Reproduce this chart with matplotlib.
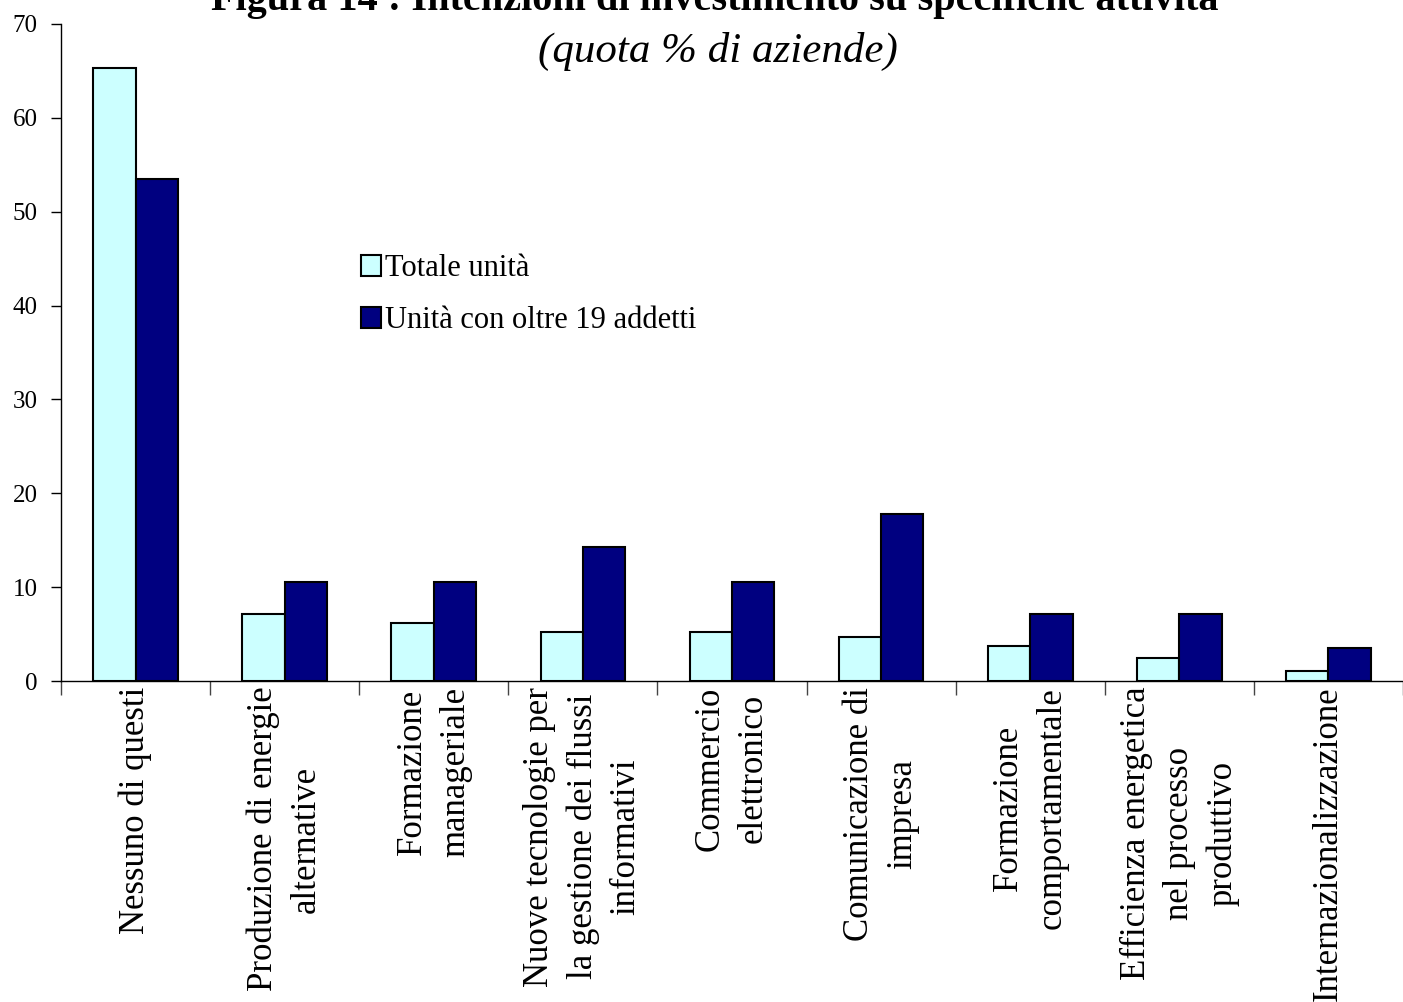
import numpy as np
import matplotlib
matplotlib.use('Agg')
import matplotlib.pyplot as plt

plt.rcParams['font.family'] = ['Liberation Serif', 'DejaVu Serif']

# Chart data
categories = [
    'Nessuno di questi',
    'Produzione di energie\nalternative',
    'Formazione\nmanageriale',
    'Nuove tecnologie per\nla gestione dei flussi\ninformativi',
    'Commercio\nelettronico',
    'Comunicazione di\nimpresa',
    'Formazione\ncomportamentale',
    'Efficienza energetica\nnel processo\nproduttivo',
    'Internazionalizzazione',
]
totale_unita = [65.3, 7.1, 6.2, 5.2, 5.2, 4.7, 3.7, 2.5, 1.1]
oltre_19 = [53.5, 10.6, 10.6, 14.3, 10.6, 17.8, 7.1, 7.1, 3.5]
series_labels = ['Totale unità', 'Unità con oltre 19 addetti']
y_ticks = [0, 10, 20, 30, 40, 50, 60, 70]

fig = plt.figure(figsize=(14.03, 10.02), dpi=100)
ax = fig.add_axes([61 / 1403, 1 - 681 / 1002, 1 - 61 / 1403, (681 - 24) / 1002])

x = np.arange(len(categories))
w = 0.284
ax.bar(x - w / 2, totale_unita, w, color='#CCFFFF', edgecolor='black', linewidth=1.5,
       label=series_labels[0], zorder=2)
ax.bar(x + w / 2, oltre_19, w, color='#000080', edgecolor='black', linewidth=1.5,
       label=series_labels[1], zorder=2)

ax.set_xlim(-0.5, len(categories) - 0.5)
ax.set_ylim(0, 70)
ax.set_yticks(y_ticks)
ax.tick_params(axis='y', labelsize=18, length=7, width=1, direction='out', pad=10)

# boundary ticks between groups, labels centred under groups
ax.set_xticks(np.arange(len(categories) + 1) - 0.5)
ax.set_xticklabels([])
ax.tick_params(axis='x', length=10, width=1, direction='out', color='#444444')
for xi, lab in zip(x, categories):
    ax.text(xi, -0.6, lab, rotation=90, ha='center', va='top', multialignment='center',
            fontsize=25, linespacing=1.4)

for s in ['top', 'right']:
    ax.spines[s].set_visible(False)
ax.spines['left'].set_linewidth(1)
ax.spines['bottom'].set_linewidth(1)

ax.legend(loc='upper left', bbox_to_anchor=(0.2145, 0.668), frameon=False, fontsize=22,
          handlelength=0.65, handleheight=0.65, handletextpad=0.12, labelspacing=0.75,
          borderaxespad=0)

fig.text(715 / 1403, 1 - 10 / 1002, 'Figura 14 : Intenzioni di investimento su specifiche attività',
         ha='center', va='baseline', fontsize=29, fontweight='bold')
fig.text(718 / 1403, 1 - 51 / 1002, '(quota % di aziende)', ha='center', va='center',
         fontsize=31, fontstyle='italic')

fig.savefig('out.png', dpi=100)
